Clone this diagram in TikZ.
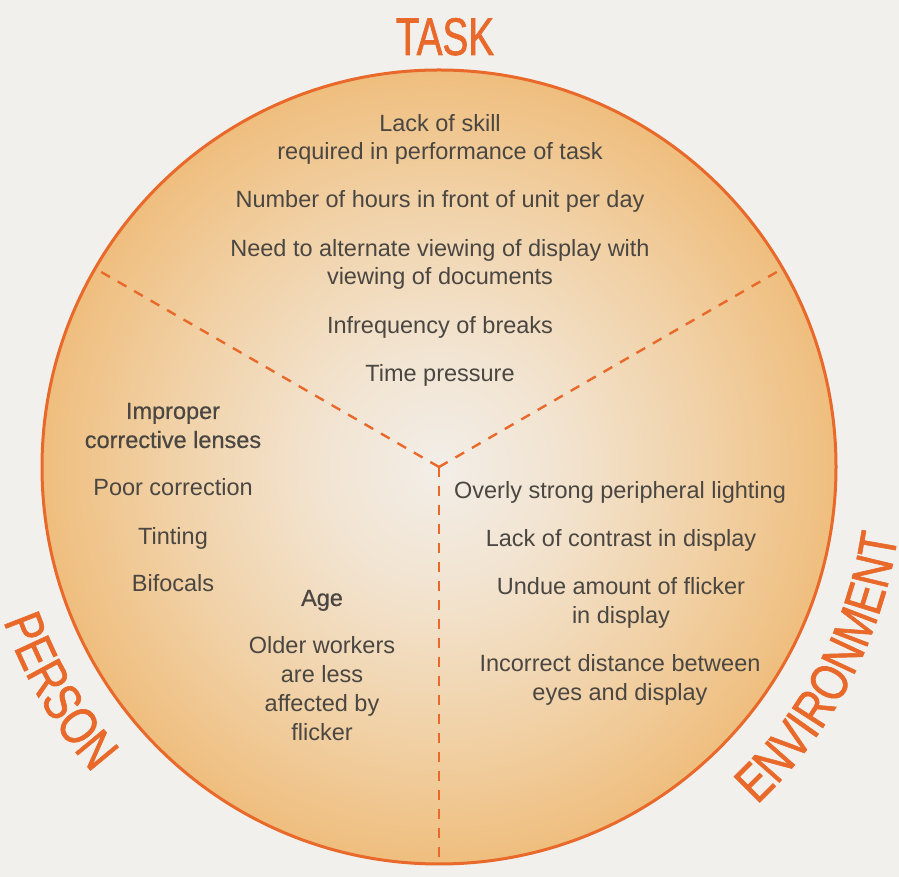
\documentclass[tikz,border=0pt]{standalone}
\usepackage{fontspec}
\setmainfont{Liberation Sans}
\newfontfamily\headfont[FakeStretch=0.73,FakeBold=1.2]{Liberation Sans}
\newfontfamily\arcfont[FakeStretch=0.79,FakeBold=1.2]{Liberation Sans}
\newfontfamily\medfont[FakeBold=0.5]{Liberation Sans}
\usetikzlibrary{decorations.text,calc}
\definecolor{bg}{HTML}{F1F0ED}
\definecolor{org}{HTML}{E8692A}
\definecolor{txt}{HTML}{4A4641}
\definecolor{c0}{HTML}{F2EEE8}
\definecolor{c1}{HTML}{F2E3CF}
\definecolor{c2}{HTML}{F1D1A6}
\definecolor{c3}{HTML}{EFBE7E}
\pgfdeclareradialshading{discshade}{\pgfpoint{0bp}{0bp}}{color(0bp)=(c0); color(8bp)=(c1); color(17bp)=(c2); color(25bp)=(c3); color(50bp)=(c3)}
\begin{document}
\begin{tikzpicture}[x=1pt,y=1pt,
  body/.style={anchor=base, inner sep=0pt, text=txt, font=\fontsize{23.5}{28}\selectfont},
  bodymed/.style={body, font=\medfont\fontsize{23.5}{28}\selectfont},
  head/.style={anchor=base, inner sep=0pt, text=org, font=\headfont\fontsize{53}{60}\selectfont},
  dashline/.style={draw=org, line width=2.4pt, dash pattern=on 10pt off 9pt},
  disc/.style={circle, inner sep=0pt, outer sep=0pt, minimum size=794pt, draw=org, line width=3pt, shade, shading=discshade}]
\useasboundingbox[fill=bg] (0,0) rectangle (899,877);
\coordinate (C) at (439,410);
\node[disc] (circ) at (C) {};
\draw[dashline] (C) -- (circ.150);
\draw[dashline] (C) -- (circ.30);
\draw[dashline] (C) -- (circ.270);
% headings
\node[head] (task) at (445,822) {TASK};
\path[decorate, decoration={text along path, text={|\arcfont\fontsize{53}{60}\selectfont|PERSON}, text align=center, text color=org}]
  ($(C)+(170.5:462pt)$) arc[start angle=170.5, end angle=250.5, radius=462pt];
\path[decorate, decoration={text along path, text={|\arcfont\fontsize{53}{60}\selectfont|ENVIRONMENT}, text align=center, text color=org}]
  ($(C)+(282.4:464pt)$) arc[start angle=282.4, end angle=382.4, radius=464pt];
% task
\node[body] (t1a) at (440,745) {Lack of skill};
\node[body] (t1b) at (440,717) {required in performance of task};
\node[body] (t2) at (440,669) {Number of hours in front of unit per day};
\node[body] (t3a) at (440,620) {Need to alternate viewing of display with};
\node[body] (t3b) at (440,592) {viewing of documents};
\node[body] (t4) at (440,543) {Infrequency of breaks};
\node[body] (t5) at (440,495) {Time pressure};
% person
\node[bodymed] (p1a) at (173,458) {Improper};
\node[bodymed] (p1b) at (173,429) {corrective lenses};
\node[body] (p2) at (173,381) {Poor correction};
\node[body] (p3) at (173,332) {Tinting};
\node[body] (p4) at (173,285) {Bifocals};
\node[bodymed] (p5) at (322,271) {Age};
\node[body] (p6a) at (322,223) {Older workers};
\node[body] (p6b) at (322,194) {are less};
\node[body] (p6c) at (322,165) {affected by};
\node[body] (p6d) at (322,136) {flicker};
% environment
\node[body] (e1) at (620,378) {Overly strong peripheral lighting};
\node[body] (e2) at (621,330) {Lack of contrast in display};
\node[body] (e3a) at (621,282) {Undue amount of flicker};
\node[body] (e3b) at (621,253) {in display};
\node[body] (e4a) at (620,205) {Incorrect distance between};
\node[body] (e4b) at (620,176) {eyes and display};
\end{tikzpicture}
\end{document}
